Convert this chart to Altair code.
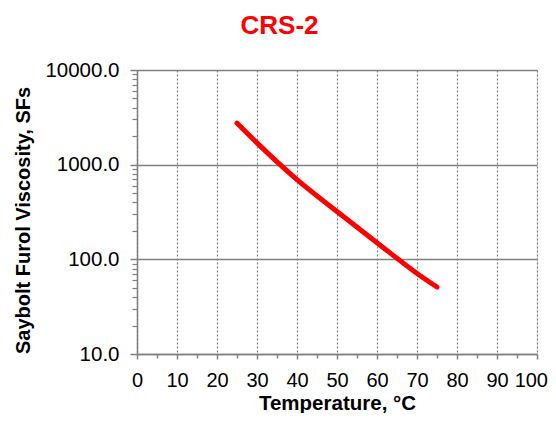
import altair as alt
import pandas as pd

# Data
temperature = [25, 30, 40, 50, 60, 70, 75]
viscosity = [2750, 1700, 695, 320, 150, 71, 51]

x_major = [0, 10, 20, 30, 40, 50, 60, 70, 80, 90, 100]
x_minor = [5, 15, 25, 35, 45, 55, 65, 75, 85, 95]
y_major = [10, 100, 1000, 10000]
y_minor = [m * d for d in (10, 100, 1000) for m in range(2, 10)]

df = pd.DataFrame({"T": temperature, "V": viscosity})

FONT = "Liberation Sans"
GRAY = "#808080"

xscale = alt.Scale(domain=[0, 100], nice=False, zero=False)
yscale = alt.Scale(type="log", domain=[10, 10000], nice=False)

main = alt.Chart(df).mark_line(
    color="#ff0000", strokeWidth=5, strokeCap="round", interpolate="monotone"
).encode(
    x=alt.X("T:Q", scale=xscale, axis=alt.Axis(
        orient="bottom", values=x_major, title="Temperature, °C",
        grid=True, gridColor=GRAY, gridDash=[2, 2], gridWidth=1.2,
        domainColor=GRAY, domainWidth=1.5, tickColor=GRAY, tickWidth=1.5, tickSize=5,
        labelFont=FONT, labelFontSize=20, labelColor="#000000", labelPadding=11,
        labelFlush=False, labelOverlap=False,
        labelAlign=alt.condition("datum.value == 100", alt.value("right"), alt.value("center")),
        labelOffset=alt.condition("datum.value == 100", alt.value(10.5), alt.value(0)),
        titleFont=FONT, titleFontSize=20.5, titleFontWeight="bold", titleColor="#000000",
        titleY=55, titleBaseline="alphabetic",
    )),
    y=alt.Y("V:Q", scale=yscale, axis=alt.Axis(
        orient="left", values=y_major, format=".1f", title="Saybolt Furol Viscosity, SFs",
        grid=True, gridColor=GRAY, gridWidth=1.6,
        domainColor=GRAY, domainWidth=1.5, tickColor=GRAY, tickWidth=1.5, tickSize=7,
        labelFont=FONT, labelFontSize=20.5, labelColor="#000000", labelPadding=11,
        labelOverlap=False, labelFlush=False,
        titleFont=FONT, titleFontSize=20, titleFontWeight="bold", titleColor="#000000",
        titleX=-114, titleY=150, titleBaseline="middle", titleAngle=-90,
    )),
)

minor = alt.Chart(df).mark_point(opacity=0).encode(
    x=alt.X("T:Q", scale=xscale, axis=alt.Axis(
        orient="bottom", values=x_minor, labels=False, grid=False, domain=False,
        tickColor=GRAY, tickWidth=1.5, tickSize=4, title=None,
    )),
    y=alt.Y("V:Q", scale=yscale, axis=alt.Axis(
        orient="left", values=y_minor, labels=False, grid=False, domain=False,
        tickColor=GRAY, tickWidth=1.2, tickSize=5, title=None,
    )),
)

chart = alt.layer(main, minor).resolve_axis(x="independent", y="independent").properties(
    width=400, height=284,
    autosize=alt.AutoSizeParams(type="none"),
    padding={"left": 129, "top": 62, "right": 11, "bottom": 59},
    title=alt.TitleParams(
        text="CRS-2", color="#ff0000", font=FONT, fontSize=26, fontWeight="bold",
        anchor="middle", dx=-57.5, baseline="alphabetic", offset=0, dy=0,
    ),
).configure_view(fill="#f2f2f2", stroke=None).configure(background="#ffffff")

chart.save("out.html", embed_options={"renderer": "svg", "actions": False})
